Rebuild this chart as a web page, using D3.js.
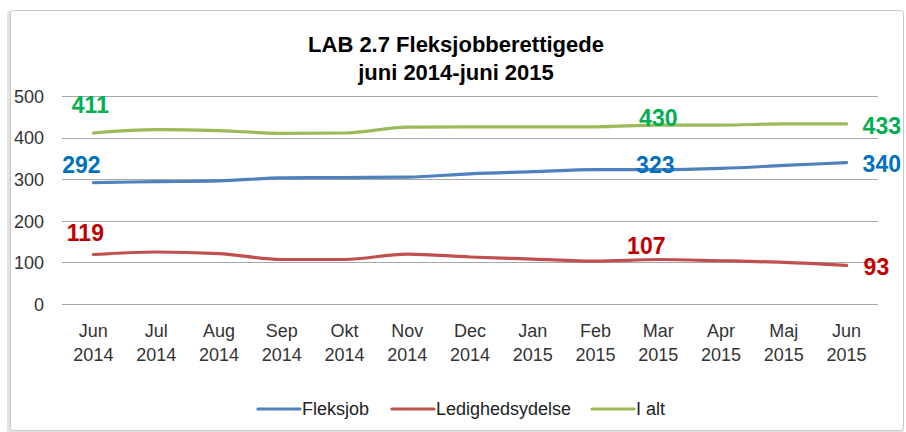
<!DOCTYPE html>
<html>
<head>
<meta charset="utf-8">
<script src="https://cdn.jsdelivr.net/npm/d3@7"></script>
<style>
  body { margin: 0; background: #fff; }
  text { font-family: "Liberation Sans", Arial, sans-serif; }
</style>
</head>
<body>
<div id="chart"></div>
<script>
// maaneder, to linjer pr. label
var maaneder = ["Jun", "Jul", "Aug", "Sep", "Okt", "Nov", "Dec", "Jan", "Feb", "Mar", "Apr", "Maj", "Jun"];
var aar = ["2014", "2014", "2014", "2014", "2014", "2014", "2014", "2015", "2015", "2015", "2015", "2015", "2015"];

var fleksjob = [292, 294, 296, 303, 304, 305, 313, 318, 323, 323, 326, 333, 340];
var ledighedsydelse = [119, 125, 121, 107, 107, 120, 113, 108, 103, 107, 104, 100, 93];
var iAlt = [411, 419, 417, 410, 411, 425, 426, 426, 426, 430, 430, 433, 433];

var serieNavne = ["Fleksjob", "Ledighedsydelse", "I alt"];
var yTicks = [0, 100, 200, 300, 400, 500];
var labelIndex = [0, 9, 12];

function plot() {
    var width = 906,
        height = 432;

    var lineColor = {"Fleksjob": "#4f81bd", "Ledighedsydelse": "#c0504d", "I alt": "#9bbb59"};
    var labelColor = {"Fleksjob": "#0070c0", "Ledighedsydelse": "#c00000", "I alt": "#00b050"};
    var values = {"Fleksjob": fleksjob, "Ledighedsydelse": ledighedsydelse, "I alt": iAlt};

    // placering af datalabels i forhold til punktet
    var offsets = {
        "Fleksjob": [[-12, -10, "middle"], [-3, 3, "middle"], [16, 9, "start"]],
        "Ledighedsydelse": [[-8, -13, "middle"], [-12, -5, "middle"], [17, 10, "start"]],
        "I alt": [[-3, -20, "middle"], [0, 1, "middle"], [16, 10, "start"]]
    };

    var svg = d3.select("#chart")
        .append("svg")
        .attr("width", width)
        .attr("height", height);

    svg.append("rect")
        .attr("width", width)
        .attr("height", height)
        .style("fill", "#fff");

    // ramme med lille skygge til venstre
    svg.append("rect")
        .attr("x", 7).attr("y", 11)
        .attr("width", 897).attr("height", 422)
        .attr("rx", 4)
        .style("fill", "#e2e2e2");
    svg.append("rect")
        .attr("x", 10.5).attr("y", 10.5)
        .attr("width", 893).attr("height", 420)
        .attr("rx", 3)
        .style("fill", "#fff")
        .style("stroke", "#c8c8c8");

    var x = d3.scaleBand()
        .domain(d3.range(maaneder.length))
        .range([62, 878]);

    var y = d3.scaleLinear()
        .domain([0, 500])
        .range([304, 96]);

    var cx = function (i) { return x(i) + x.bandwidth() / 2; };

    // gitterlinjer
    svg.append("g")
        .selectAll("line")
        .data(yTicks)
        .enter()
        .append("line")
        .attr("x1", 62)
        .attr("x2", 878)
        .attr("y1", function (d) { return Math.round(y(d)) + 0.5; })
        .attr("y2", function (d) { return Math.round(y(d)) + 0.5; })
        .style("stroke", "#a6a6a6")
        .style("stroke-width", 1);

    var yAxis = d3.axisLeft(y).tickValues(yTicks).tickSize(0).tickPadding(0);
    var ya = svg.append("g")
        .attr("transform", "translate(44,0)")
        .call(yAxis);
    ya.select(".domain").remove();
    ya.selectAll("text")
        .attr("dy", "0.35em")
        .style("font-size", "18px")
        .style("fill", "#333")
        .style("font-family", "Liberation Sans, Arial, sans-serif");

    // x labels
    var xl = svg.append("g")
        .selectAll("text")
        .data(maaneder)
        .enter()
        .append("text")
        .attr("text-anchor", "middle")
        .style("font-size", "18px")
        .style("fill", "#333");
    xl.append("tspan")
        .attr("x", function (d, i) { return cx(i); })
        .attr("y", 337)
        .text(function (d) { return d; });
    xl.append("tspan")
        .attr("x", function (d, i) { return cx(i); })
        .attr("y", 361)
        .text(function (d, i) { return aar[i]; });

    // linjer
    var line = d3.line()
        .x(function (d, i) { return cx(i); })
        .y(function (d) { return y(d); })
        .curve(d3.curveMonotoneX);

    serieNavne.forEach(function (s) {
        svg.append("path")
            .datum(values[s])
            .attr("d", line)
            .style("fill", "none")
            .style("stroke", lineColor[s])
            .style("stroke-width", 3.2)
            .style("stroke-linecap", "round");
    });

    // datalabels
    serieNavne.forEach(function (s) {
        labelIndex.forEach(function (idx, k) {
            var o = offsets[s][k];
            svg.append("text")
                .attr("x", cx(idx) + o[0])
                .attr("y", y(values[s][idx]) + o[1])
                .attr("text-anchor", o[2])
                .style("font-size", "23px")
                .style("font-weight", "bold")
                .style("fill", labelColor[s])
                .text(values[s][idx]);
        });
    });

    // titel
    var title = svg.append("text")
        .attr("text-anchor", "middle")
        .style("font-size", "22px")
        .style("font-weight", "bold")
        .style("fill", "#000");
    title.append("tspan").attr("x", 456).attr("y", 52).text("LAB 2.7 Fleksjobberettigede");
    title.append("tspan").attr("x", 456).attr("y", 80).text("juni 2014-juni 2015");

    // legend
    var legendX = [258, 392, 592];
    var lg = svg.append("g")
        .selectAll("g")
        .data(serieNavne)
        .enter()
        .append("g")
        .attr("transform", function (d, i) { return "translate(" + legendX[i] + ",409)"; });
    lg.append("line")
        .attr("x1", 0).attr("x2", 42)
        .style("stroke", function (d) { return lineColor[d]; })
        .style("stroke-width", 3.2)
        .style("stroke-linecap", "round");
    lg.append("text")
        .attr("x", 44)
        .attr("y", 6)
        .style("font-size", "18px")
        .style("fill", "#222")
        .text(function (d) { return d; });
}

plot();
</script>
</body>
</html>
